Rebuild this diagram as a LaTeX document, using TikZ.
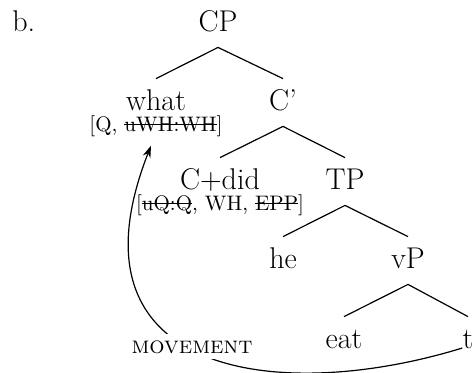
\documentclass[tikz,border=0pt]{standalone}
\usepackage{tikz}
\usetikzlibrary{arrows.meta}
\def\branch(#1)(#2){\draw[semithick] ([yshift=-8pt]#1.south) -- ([yshift=5.5pt]#2.north);}
\def\strikeout#1{\setbox0\hbox{#1}\rlap{\rule[0.3em]{\wd0}{0.6pt}}\box0}

\begin{document}
\begin{tikzpicture}[x=1pt, y=1pt,
		word/.style={inner sep=0pt, anchor=base, text height=10pt, text depth=0pt, font=\fontsize{15}{18}\selectfont},
		feat/.style={inner sep=0pt, anchor=base, font=\fontsize{10.5}{12}\selectfont}]
			%%%%% START %%%%%
			\useasboundingbox (0, 0) rectangle (237, -186);
			
			\node[word, anchor=base west] (ex) at (6, -15.5) {b.};
			
			\node[word] (cp) at (109, -15.5) {CP};
			
			\node[word] (what) at (78, -55) {what};
			\node[feat] (whatf) at (78, -65.5) {[Q, \strikeout{uWH:WH}]};
			\node[word] (cbar) at (141.5, -55) {C'};
			
			\node[word] (cdid) at (110, -94.5) {C+did};
			\node[feat] (cdidf) at (110, -105) {[\strikeout{uQ:Q}, WH, \strikeout{EPP}]};
			\node[word] (tp) at (172.5, -94.5) {TP};
			
			\node[word] (he) at (141.5, -134) {he};
			\node[word] (vp) at (204, -134) {vP};
			
			\node[word] (eat) at (172, -174) {eat};
			\node[word] (t) at (234, -174) {t};
			
			\branch(cp)(what)
			\branch(cp)(cbar)
			\branch(cbar)(cdid)
			\branch(cbar)(tp)
			\branch(tp)(he)
			\branch(tp)(vp)
			\branch(vp)(eat)
			\branch(vp)(t)
			
			% movement arrow
			\draw[semithick, -{Stealth[length=6pt, width=4pt]}] (t.base west) .. controls +(-91, -28) and +(-45.5, -116) .. ([xshift=-2.5pt, yshift=-4.5pt]whatf.south);
			\node[fill=white, inner xsep=3pt, inner ysep=3pt, anchor=base, font=\fontsize{12}{14}\selectfont] (mv) at (96, -176.5) {\textsc{movement}};
			
			%%%%% END %%%%%
		\end{tikzpicture}
\end{document}
